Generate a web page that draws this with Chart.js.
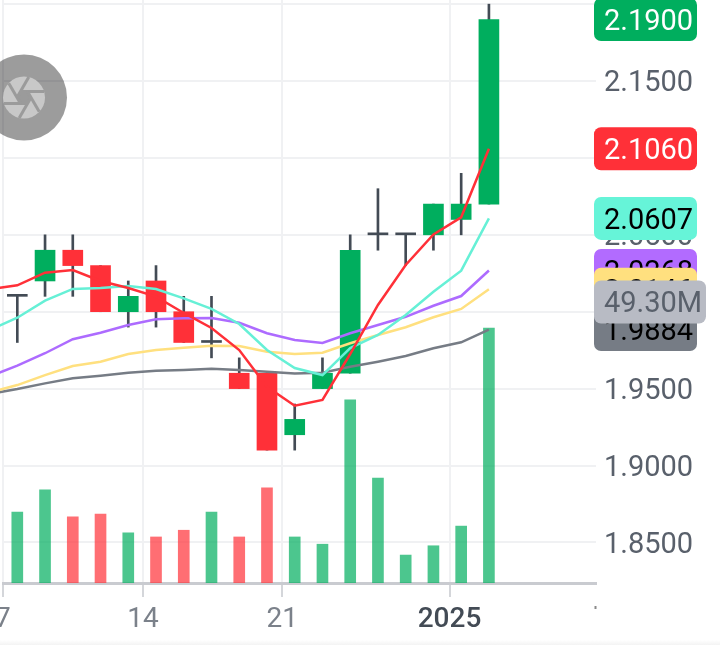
<!DOCTYPE html>
<html lang="en">
<head>
  <meta charset="UTF-8">
  <title>Price Chart</title>
  <script src="https://cdn.jsdelivr.net/npm/chart.js"></script>
  <style>
    html, body { margin: 0; padding: 0; width: 720px; height: 645px; overflow: hidden; background: #fff; }
    #priceChart { position: absolute; left: -60px; top: -30px; }
    #shutter { position: absolute; left: 0; top: 0; }
    #edge { position: absolute; left: 0; bottom: 0; width: 720px; height: 5px; background: linear-gradient(#ffffff, #f3f3f3); }
  </style>
</head>
<body>
  <canvas id="priceChart" width="780" height="675"></canvas>
  <svg id="shutter" width="720" height="645">
    <circle cx="24" cy="97.5" r="43" fill="rgba(0,0,0,0.39)"/>
    <g transform="translate(24 97.5)">
      <circle r="21" fill="#c8c8c8"/>
      <polygon points="7,0 3.5,6.06 -3.5,6.06 -7,0 -3.5,-6.06 3.5,-6.06" fill="#9b9b9b"/>
      <g stroke="#9b9b9b" stroke-width="3">
        <line x1="7" y1="0" x2="-4.8" y2="20.4"/>
        <line x1="7" y1="0" x2="-4.8" y2="20.4" transform="rotate(60)"/>
        <line x1="7" y1="0" x2="-4.8" y2="20.4" transform="rotate(120)"/>
        <line x1="7" y1="0" x2="-4.8" y2="20.4" transform="rotate(180)"/>
        <line x1="7" y1="0" x2="-4.8" y2="20.4" transform="rotate(240)"/>
        <line x1="7" y1="0" x2="-4.8" y2="20.4" transform="rotate(300)"/>
      </g>
    </g>
    <rect x="594.5" y="606" width="2" height="3" fill="#8a8a8a"/>
  </svg>
  <div id="edge"></div>

  <script>
    // candles, one per trading day
    const opens  = [2.01, 2.02, 2.04, 2.03, 2.00, 2.02, 2.00, 1.98, 1.96, 1.96, 1.92, 1.95, 1.96, 2.05, 2.05, 2.05, 2.06, 2.07];
    const highs  = [2.01, 2.05, 2.05, 2.03, 2.02, 2.03, 2.01, 2.01, 1.97, 1.96, 1.94, 1.97, 2.05, 2.08, 2.05, 2.07, 2.09, 2.20];
    const lows   = [1.98, 2.01, 2.01, 2.00, 1.99, 1.99, 1.98, 1.97, 1.95, 1.91, 1.91, 1.95, 1.96, 2.04, 2.03, 2.04, 2.05, 2.07];
    const closes = [2.01, 2.04, 2.03, 2.00, 2.01, 2.00, 1.98, 1.98, 1.95, 1.91, 1.93, 1.96, 2.04, 2.05, 2.05, 2.07, 2.07, 2.19];

    // volume in millions
    const volumes = [13.7, 18.0, 12.8, 13.3, 9.7, 8.9, 10.2, 13.7, 8.9, 18.4, 8.9, 7.5, 35.4, 20.3, 5.4, 7.2, 11.0, 49.3];

    // moving averages, these start one day before the first candle
    const maRed    = [2.0146, 2.0172, 2.0254, 2.0271, 2.0200, 2.0154, 2.0098, 1.9992, 1.9894, 1.9751, 1.9512, 1.9389, 1.9426, 1.9725, 2.0044, 2.0304, 2.0503, 2.0614, 2.1060];
    const maTeal   = [1.9881, 1.9961, 2.0072, 2.0148, 2.0154, 2.0167, 2.0148, 2.0087, 2.0018, 1.9920, 1.9751, 1.9634, 1.9588, 1.9764, 1.9849, 1.9979, 2.0130, 2.0267, 2.0607];
    const maPurple = [1.9579, 1.9649, 1.9730, 1.9821, 1.9863, 1.9914, 1.9951, 1.9957, 1.9959, 1.9928, 1.9860, 1.9816, 1.9797, 1.9860, 1.9914, 1.9967, 2.0039, 2.0102, 2.0268];
    const maYellow = [1.9475, 1.9523, 1.9588, 1.9647, 1.9675, 1.9725, 1.9751, 1.9766, 1.9779, 1.9777, 1.9740, 1.9725, 1.9733, 1.9795, 1.9849, 1.9899, 1.9964, 2.0018, 2.0146];
    const maGray   = [1.9465, 1.9497, 1.9534, 1.9567, 1.9584, 1.9603, 1.9616, 1.9621, 1.9629, 1.9621, 1.9610, 1.9599, 1.9603, 1.9642, 1.9675, 1.9712, 1.9762, 1.9801, 1.9884];

    // axes
    const priceTicks = [1.85, 1.90, 1.95, 2.00, 2.05, 2.10, 2.15, 2.20];
    const dateTicks  = [-0.52, 4.53, 9.55, 15.58];
    const dateLabels = ['7', '14', '21', '2025'];

    const GREEN = '#00ae5e';
    const RED = '#ff3038';
    const WICK = '#434b55';

    const isUp = i => closes[i] > opens[i];
    const isDoji = i => closes[i] === opens[i];

    function lineSet(values, color, order) {
      return {
        type: 'line',
        data: values.map((y, i) => ({ x: i - 1, y })),
        borderColor: color,
        borderWidth: 2.5,
        pointRadius: 0,
        tension: 0,
        clip: false,
        order
      };
    }

    // price tags sitting on the right axis, later ones on top
    const priceTags = [
      { value: maGray[18],   bg: '#767c85', fg: '#000000' },
      { value: maPurple[18], bg: '#b26bff', fg: '#000000' },
      { value: maYellow[18], bg: '#ffe07f', fg: '#000000' },
      { value: maTeal[18],   bg: '#66f4d8', fg: '#000000' },
      { value: maRed[18],    bg: RED,       fg: '#ffffff' },
      { value: closes[17],   bg: GREEN,     fg: '#ffffff' }
    ];

    function roundTag(ctx, x, y, w, h, bg, fg, text) {
      ctx.fillStyle = bg;
      ctx.beginPath();
      ctx.roundRect(x, y - h / 2, w, h, 7);
      ctx.fill();
      ctx.fillStyle = fg;
      ctx.textAlign = 'left';
      ctx.textBaseline = 'middle';
      // canvas "middle" sits a bit high for Roboto digits
      ctx.fillText(text, x + 10, y + 3);
    }

    const tagPlugin = {
      id: 'tags',
      afterDraw(chart) {
        const { ctx, chartArea, scales } = chart;
        const left = chartArea.right - 2;
        ctx.save();
        ctx.font = '29px Roboto';
        priceTags.forEach(t => {
          roundTag(ctx, left, scales.y.getPixelForValue(t.value), 103, 43, t.bg, t.fg, t.value.toFixed(4));
        });
        // the volume tag gets pushed up from its bar by the overlap handling
        const volY = scales.vol.getPixelForValue(volumes[17]) - 26;
        roundTag(ctx, left, volY, 112, 43, '#b8bbc4', '#59606b', volumes[17].toFixed(2) + 'M');
        ctx.restore();
      }
    };

    new Chart(document.getElementById('priceChart'), {
      data: {
        datasets: [
          lineSet(maRed, '#ff3038', 1),
          lineSet(maTeal, '#66f0d6', 2),
          lineSet(maPurple, '#ad6bff', 3),
          lineSet(maYellow, '#ffe07f', 4),
          lineSet(maGray, '#767c85', 5),
          {
            // candle bodies, a doji is just a thin dark bar
            type: 'bar',
            data: opens.map((o, i) => ({ x: i, y: [o, closes[i]] })),
            backgroundColor: ctx => isDoji(ctx.dataIndex) ? WICK : (isUp(ctx.dataIndex) ? GREEN : RED),
            barThickness: 20,
            minBarLength: 2,
            grouped: false,
            order: 6
          },
          {
            type: 'bar',
            data: lows.map((l, i) => ({ x: i, y: [l, highs[i]] })),
            backgroundColor: WICK,
            barThickness: 2,
            grouped: false,
            order: 7
          },
          {
            type: 'bar',
            yAxisID: 'vol',
            data: volumes.map((v, i) => ({ x: i, y: v })),
            backgroundColor: ctx => isUp(ctx.dataIndex) || isDoji(ctx.dataIndex) ? 'rgba(0,174,94,0.7)' : 'rgba(255,48,56,0.7)',
            barThickness: 11,
            grouped: false,
            order: 8
          }
        ]
      },
      options: {
        responsive: false,
        animation: false,
        layout: { padding: { left: 63, top: 30 } },
        plugins: { legend: { display: false }, tooltip: { enabled: false } },
        scales: {
          x: {
            type: 'linear',
            offset: false,
            min: -0.5155,
            max: 20.86,
            afterBuildTicks: scale => { scale.ticks = dateTicks.map(value => ({ value })); },
            afterFit: scale => { scale.height = 62; },
            grid: { offset: false, color: '#f0f1f3', lineWidth: 2, tickColor: '#d4d6da', tickLength: 14, tickWidth: 2 },
            border: { color: '#c9cbd0', width: 3 },
            ticks: {
              autoSkip: false,
              maxRotation: 0,
              padding: 6,
              callback: (value, i) => dateLabels[i],
              color: ctx => ctx.index === 3 ? '#434b55' : '#7b818a',
              font: ctx => ({ family: 'Roboto', size: 28, weight: ctx.index === 3 ? '500' : '400' })
            }
          },
          y: {
            position: 'right',
            min: 1.8236,
            max: 2.2027,
            afterBuildTicks: scale => { scale.ticks = priceTicks.map(value => ({ value })); },
            afterFit: scale => { scale.width = 124; },
            grid: { color: '#f0f1f3', lineWidth: 2, drawTicks: false },
            border: { display: false },
            ticks: {
              padding: 8,
              color: '#59606b',
              // empty first line plus a small line height nudges the digits down 3px
              font: { family: 'Roboto', size: 29, lineHeight: '6px' },
              callback: value => ['', value.toFixed(4)]
            }
          },
          vol: {
            display: false,
            min: 0,
            max: 112.7
          }
        }
      },
      plugins: [tagPlugin]
    });
  </script>
</body>
</html>
